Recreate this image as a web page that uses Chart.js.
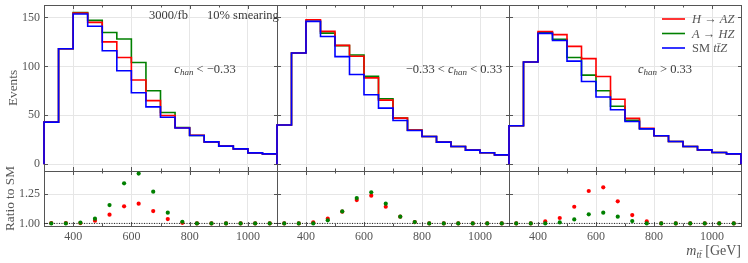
<!DOCTYPE html>
<html>
<head>
<meta charset="utf-8">
<script src="https://cdn.jsdelivr.net/npm/chart.js@4.4.0/dist/chart.umd.min.js"></script>
<style>
  html, body { margin: 0; padding: 0; background: #fff; }
  #wrap { position: relative; width: 748px; height: 263px; overflow: hidden; }
  #wrap canvas { position: absolute; left: 0; top: 0; }
</style>
</head>
<body>
<div id="wrap">
  <canvas id="main0" width="748" height="263"></canvas>
  <canvas id="main1" width="748" height="263"></canvas>
  <canvas id="main2" width="748" height="263"></canvas>
  <canvas id="ratio0" width="748" height="263"></canvas>
  <canvas id="ratio1" width="748" height="263"></canvas>
  <canvas id="ratio2" width="748" height="263"></canvas>
</div>
<script>
// m_tt bins (GeV): edges and centres
const binEdges = [300, 350, 400, 450, 500, 550, 600, 650, 700, 750, 800, 850, 900, 950, 1000, 1050, 1100];
const binCenters = [325, 375, 425, 475, 525, 575, 625, 675, 725, 775, 825, 875, 925, 975, 1025, 1075];
const xTicks = [400, 600, 800, 1000];
const xMinorTicks = [500, 700, 900];
const eventTicks = [0, 50, 100, 150];
const ratioTicks = [1.0, 1.25];

// c_han < -0.33
const smLow = [43, 118, 153.5, 141, 116, 95.5, 73, 58.6, 48, 37, 29.3, 22.8, 18.4, 15.6, 11.5, 10.5];
const hazLow = [43, 118, 154.5, 145, 125, 109, 86, 65, 49.8, 37.3, 29.5, 22.8, 18.4, 15.6, 11.5, 10.5];
const ahzLow = [43, 118, 155, 147, 134.7, 128, 104, 75, 52.8, 37.5, 29.3, 22.8, 18.4, 15.6, 11.5, 10.5];
const ratioHazLow = [1.003, 1.003, 1.003, 1.023, 1.074, 1.145, 1.168, 1.105, 1.037, 1.005, 1.0, 1.0, 1.0, 1.0, 1.0, 1.0];
const ratioAhzLow = [1.0, 1.0, 1.006, 1.04, 1.156, 1.341, 1.424, 1.27, 1.091, 1.014, 1.0, 1.0, 1.0, 1.0, 1.0, 1.0];

// -0.33 < c_han < 0.33
const smMid = [40, 113.6, 146, 130.6, 110, 91.7, 71, 57.3, 44.6, 34.4, 28.3, 22.5, 18, 14.3, 11.6, 9.5];
const hazMid = [40, 113.6, 147.6, 135.8, 121.5, 110.3, 88.2, 65.5, 47.1, 34.8, 28.3, 22.5, 18, 14.3, 11.6, 9.5];
const ahzMid = [40, 113.6, 146.2, 134, 121.2, 111.6, 89.8, 66.9, 47.1, 34.8, 28.3, 22.5, 18, 14.3, 11.6, 9.5];
const ratioHazMid = [1.0, 1.0, 1.009, 1.04, 1.1, 1.199, 1.236, 1.142, 1.057, 1.011, 1.0, 1.0, 1.0, 1.0, 1.0, 1.0];
const ratioAhzMid = [1.0, 1.0, 1.0, 1.026, 1.102, 1.216, 1.265, 1.168, 1.057, 1.011, 1.0, 1.0, 1.0, 1.0, 1.0, 1.0];

// c_han > 0.33
const smHigh = [39.2, 104.4, 133.7, 126.5, 105.4, 84.5, 68.6, 55.6, 43.6, 36.1, 29, 23.1, 18, 14.6, 11.9, 10.5];
const hazHigh = [39.2, 104.4, 135.6, 132.5, 120.4, 107.9, 89.7, 66.3, 46.8, 36.7, 29, 23.1, 18, 14.6, 11.9, 10.5];
const ahzHigh = [39.2, 104.4, 134.2, 127.8, 109, 91, 75, 59.2, 44.8, 36.2, 29, 23.1, 18, 14.6, 11.9, 10.5];
const ratioHazHigh = [1.0, 1.0, 1.017, 1.046, 1.142, 1.276, 1.307, 1.188, 1.071, 1.017, 1.0, 1.0, 1.0, 1.0, 1.0, 1.0];
const ratioAhzHigh = [1.0, 1.0, 1.0, 1.008, 1.034, 1.077, 1.091, 1.057, 1.02, 1.0, 1.0, 1.0, 1.0, 1.0, 1.0, 1.0];

const RED = '#ff0000', GREEN = '#008000', BLUE = '#0000ff';
const FRAME = '#555555', GRID = '#e6e6e6', TEXT = '#555555', NOTE = '#3a3a3a';
const SERIF = '"Liberation Serif", "DejaVu Serif", serif';

Chart.defaults.font.family = SERIF;
Chart.defaults.color = TEXT;

// where each panel sits on the page
const panels = [
  { left: 44, right: 277, sm: smLow, haz: hazLow, ahz: ahzLow, rHaz: ratioHazLow, rAhz: ratioAhzLow },
  { left: 277, right: 509, sm: smMid, haz: hazMid, ahz: ahzMid, rHaz: ratioHazMid, rAhz: ratioAhzMid },
  { left: 509, right: 741, sm: smHigh, haz: hazHigh, ahz: ahzHigh, rHaz: ratioHazHigh, rAhz: ratioAhzHigh }
];
const MAIN_TOP = 5, MAIN_BOTTOM = 171, RATIO_BOTTOM = 226, XAXIS_H = 20;
const TICK_FONT = 12;

// histogram outline: start and end at zero, one point on each left edge
function stepPoints(values) {
  const last = binEdges[binEdges.length - 1];
  const pts = [{ x: binEdges[0], y: 0 }];
  values.forEach((v, i) => pts.push({ x: binEdges[i], y: v }));
  pts.push({ x: last, y: values[values.length - 1] });
  pts.push({ x: last, y: 0 });
  return pts;
}

function noPad(s) {
  s.paddingLeft = 0; s.paddingRight = 0; s.paddingTop = 0; s.paddingBottom = 0;
}

// text made of pieces with different fonts, e.g. c_han
function drawRich(ctx, x, y, parts, align) {
  let w = 0;
  parts.forEach(p => { ctx.font = p[1]; w += ctx.measureText(p[0]).width; });
  let cx = align === 'center' ? x - w / 2 : (align === 'right' ? x - w : x);
  ctx.textAlign = 'left';
  ctx.textBaseline = 'alphabetic';
  parts.forEach(p => {
    ctx.font = p[1];
    ctx.fillText(p[0], cx, y + (p[2] || 0));
    cx += ctx.measureText(p[0]).width;
  });
}

const RM = '12.5px ' + SERIF, IT = 'italic 12.5px ' + SERIF, SUB = 'italic 9px ' + SERIF;

// frame, inward ticks and annotations of one plot cell
function decor(yTicks, notes) {
  return {
    id: 'decor',
    beforeDatasetsDraw(chart) {
      const { ctx, chartArea: a, scales } = chart;
      ctx.save();
      ctx.strokeStyle = FRAME;
      ctx.lineWidth = 1;
      ctx.strokeRect(a.left + 0.5, a.top + 0.5, a.right - a.left, a.bottom - a.top);
      ctx.beginPath();
      const xt = (v, len) => {
        const px = Math.round(scales.x.getPixelForValue(v)) + 0.5;
        ctx.moveTo(px, a.bottom); ctx.lineTo(px, a.bottom - len);
        ctx.moveTo(px, a.top); ctx.lineTo(px, a.top + len);
      };
      xTicks.forEach(v => xt(v, 4));
      xMinorTicks.forEach(v => xt(v, 2.5));
      yTicks.forEach(v => {
        const py = Math.round(scales.y.getPixelForValue(v)) + 0.5;
        ctx.moveTo(a.left, py); ctx.lineTo(a.left + 4, py);
        ctx.moveTo(a.right + 1, py); ctx.lineTo(a.right - 3, py);
      });
      ctx.stroke();
      ctx.restore();
    },
    afterDraw(chart) {
      if (!notes) return;
      const ctx = chart.ctx;
      ctx.save();
      notes(ctx);
      ctx.restore();
    }
  };
}

const mainNotes = [
  ctx => {
    ctx.fillStyle = NOTE;
    drawRich(ctx, 149, 18.5, [['3000/fb', RM]]);
    drawRich(ctx, 207, 18.5, [['10% smearing', RM]]);
    drawRich(ctx, 205, 72.5, [['c', IT], ['han', SUB, 2.5], [' < \u22120.33', RM]], 'center');
  },
  ctx => {
    ctx.fillStyle = NOTE;
    drawRich(ctx, 454, 72.5, [['\u22120.33 < ', RM], ['c', IT], ['han', SUB, 2.5], [' < 0.33', RM]], 'center');
  },
  ctx => {
    ctx.fillStyle = NOTE;
    drawRich(ctx, 665, 72.5, [['c', IT], ['han', SUB, 2.5], [' > 0.33', RM]], 'center');
    // legend
    const rows = [
      [RED, 19, [['H', IT], [' \u2192 ', RM], ['AZ', IT]]],
      [GREEN, 33.5, [['A', IT], [' \u2192 ', RM], ['HZ', IT]]],
      [BLUE, 48, [['SM ', RM], ['t', IT], ['t\u0304', IT], ['Z', IT]]]
    ];
    rows.forEach(r => {
      ctx.strokeStyle = r[0];
      ctx.lineWidth = 1.6;
      ctx.beginPath();
      ctx.moveTo(662, r[1]); ctx.lineTo(685, r[1]);
      ctx.stroke();
      ctx.fillStyle = TEXT;
      drawRich(ctx, 692, r[1] + 4, r[2]);
    });
  }
];

function histDataset(label, values, color) {
  return {
    label: label, data: stepPoints(values), borderColor: color, borderWidth: 1.6,
    stepped: 'before', pointRadius: 0, fill: false, clip: 4
  };
}

panels.forEach((p, i) => {
  const first = i === 0;
  // top row: event histograms
  new Chart(document.getElementById('main' + i), {
    type: 'line',
    data: {
      datasets: [
        histDataset('SM ttZ', p.sm, BLUE),
        histDataset('H \u2192 AZ', p.haz, RED),
        histDataset('A \u2192 HZ', p.ahz, GREEN)
      ]
    },
    options: {
      responsive: false, animation: false, devicePixelRatio: 1,
      layout: { padding: { left: first ? 0 : p.left, right: 748 - p.right, top: MAIN_TOP, bottom: 263 - MAIN_BOTTOM } },
      plugins: { legend: { display: false }, tooltip: { enabled: false } },
      scales: {
        x: {
          type: 'linear', min: 300, max: 1100,
          afterBuildTicks: s => { s.ticks = xTicks.map(v => ({ value: v })); },
          ticks: { display: false },
          grid: { color: GRID, drawTicks: false },
          border: { display: false },
          afterFit: s => { s.height = 0; noPad(s); }
        },
        y: {
          type: 'linear', min: -7, max: 162.75,
          afterBuildTicks: s => { s.ticks = eventTicks.map(v => ({ value: v })); },
          ticks: { display: first, padding: 4, font: { size: TICK_FONT }, color: TEXT, callback: v => String(v) },
          grid: { color: GRID, drawTicks: false },
          border: { display: false },
          title: { display: first, text: 'Events', font: { size: 13.3 }, color: TEXT, padding: { top: 6, bottom: 0 } },
          afterFit: s => { s.width = first ? p.left : 0; noPad(s); }
        }
      }
    },
    plugins: [decor(eventTicks, mainNotes[i])]
  });

  // bottom row: ratio to SM
  new Chart(document.getElementById('ratio' + i), {
    type: 'scatter',
    data: {
      datasets: [
        { label: 'A \u2192 HZ', data: binCenters.map((x, k) => ({ x: x, y: p.rAhz[k] })), backgroundColor: GREEN, borderWidth: 0, pointRadius: 2.1, clip: 4 },
        { label: 'H \u2192 AZ', data: binCenters.map((x, k) => ({ x: x, y: p.rHaz[k] })), backgroundColor: RED, borderWidth: 0, pointRadius: 2.1, clip: 4 },
        { label: 'SM', data: [{ x: 300, y: 1 }, { x: 1100, y: 1 }], showLine: true, borderColor: '#222', borderWidth: 1, borderDash: [1, 1.5], pointRadius: 0 }
      ]
    },
    options: {
      responsive: false, animation: false, devicePixelRatio: 1,
      layout: { padding: { left: first ? 0 : p.left, right: 748 - p.right, top: MAIN_BOTTOM, bottom: 263 - RATIO_BOTTOM - XAXIS_H } },
      plugins: { legend: { display: false }, tooltip: { enabled: false } },
      scales: {
        x: {
          type: 'linear', min: 300, max: 1100,
          afterBuildTicks: s => { s.ticks = xTicks.map(v => ({ value: v })); },
          ticks: { padding: 4, font: { size: TICK_FONT }, color: TEXT, maxRotation: 0, callback: v => String(v) },
          grid: { color: GRID, drawTicks: false },
          border: { display: false },
          afterFit: s => { s.height = XAXIS_H; noPad(s); }
        },
        y: {
          type: 'linear', min: 0.978, max: 1.446,
          afterBuildTicks: s => { s.ticks = ratioTicks.map(v => ({ value: v })); },
          ticks: { display: first, padding: 4, font: { size: TICK_FONT }, color: TEXT, callback: v => v.toFixed(2) },
          grid: { color: GRID, drawTicks: false },
          border: { display: false },
          title: { display: first, text: 'Ratio to SM', font: { size: 13.3 }, color: TEXT, padding: { top: 3, bottom: 0 } },
          afterFit: s => { s.width = first ? p.left : 0; noPad(s); }
        }
      }
    },
    plugins: [decor(ratioTicks, i === 2 ? ctx => {
      ctx.fillStyle = TEXT;
      drawRich(ctx, 741, 255, [['m', 'italic 14px ' + SERIF], ['t', 'italic 9.5px ' + SERIF, 2.5], ['t\u0304', 'italic 9.5px ' + SERIF, 2.5], [' [GeV]', '14px ' + SERIF]], 'right');
    } : null)]
  });
});
</script>
</body>
</html>
